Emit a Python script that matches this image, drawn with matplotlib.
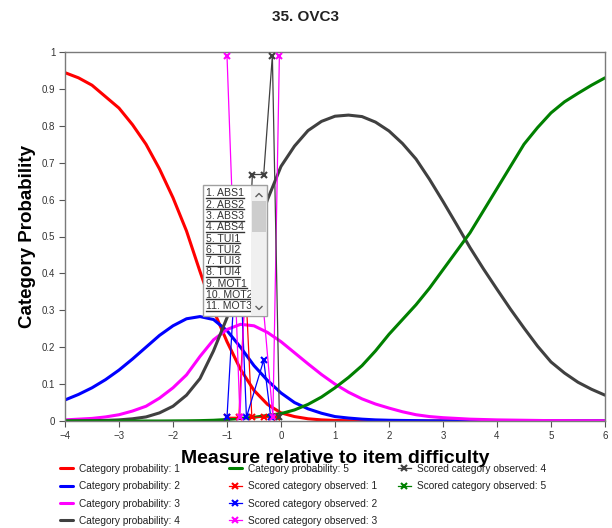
import matplotlib
matplotlib.use("Agg")
import matplotlib.pyplot as plt
from matplotlib.lines import Line2D
from matplotlib.patches import Rectangle
from matplotlib.transforms import Affine2D

plt.rcParams['font.family'] = ['Liberation Sans', 'DejaVu Sans']

# data (x step 0.25)
x_grid = [-4, -3.75, -3.5, -3.25, -3, -2.75, -2.5, -2.25, -2, -1.75, -1.5, -1.25, -1,
          -0.75, -0.5, -0.25, 0, 0.25, 0.5, 0.75, 1, 1.25, 1.5, 1.75, 2, 2.25, 2.5,
          2.75, 3, 3.25, 3.5, 3.75, 4, 4.25, 4.5, 4.75, 5, 5.25, 5.5, 5.75, 6]
cat1 = [0.944, 0.93, 0.91, 0.879, 0.848, 0.803, 0.75, 0.683, 0.605, 0.515, 0.405, 0.30, 0.215,
        0.14, 0.083, 0.045, 0.022, 0.012, 0.006, 0.003, 0.0015, 0.0008, 0.0004, 0.0002, 0.0001,
        0, 0, 0, 0, 0, 0, 0, 0, 0, 0, 0, 0, 0, 0, 0, 0]
cat2 = [0.057, 0.072, 0.09, 0.112, 0.138, 0.168, 0.20, 0.232, 0.258, 0.277, 0.283, 0.275, 0.245,
        0.20, 0.15, 0.11, 0.076, 0.05, 0.033, 0.021, 0.012, 0.008, 0.005, 0.003, 0.002, 0.0015,
        0.001, 0.0005, 0.0003, 0.0002, 0.0001, 0, 0, 0, 0, 0, 0, 0, 0, 0, 0]
cat3 = [0.003, 0.005, 0.007, 0.011, 0.017, 0.027, 0.04, 0.062, 0.09, 0.125, 0.175, 0.22, 0.248,
        0.262, 0.258, 0.24, 0.215, 0.185, 0.155, 0.126, 0.10, 0.078, 0.06, 0.046, 0.035, 0.025,
        0.017, 0.012, 0.009, 0.007, 0.005, 0.004, 0.003, 0.0025, 0.002, 0.0015, 0.001, 0.001,
        0.0005, 0.0005, 0.0003]
cat4 = [0.0002, 0.0004, 0.0008, 0.0016, 0.003, 0.006, 0.011, 0.022, 0.04, 0.07, 0.115, 0.19, 0.28,
        0.38, 0.49, 0.60, 0.69, 0.745, 0.787, 0.812, 0.826, 0.829, 0.825, 0.81, 0.786, 0.752,
        0.71, 0.655, 0.595, 0.533, 0.47, 0.412, 0.357, 0.303, 0.252, 0.203, 0.16, 0.13, 0.105,
        0.086, 0.07]
cat5 = [0, 0, 0, 0, 0, 0, 0, 0, 0.0003, 0.0005, 0.001, 0.002, 0.004,
        0.007, 0.01, 0.015, 0.02, 0.03, 0.045, 0.065, 0.09, 0.118, 0.15, 0.19, 0.235, 0.275,
        0.315, 0.36, 0.41, 0.46, 0.51, 0.57, 0.63, 0.69, 0.75, 0.795, 0.835, 0.865, 0.888,
        0.91, 0.93]

obs1_x = [-1.0, -0.78, -0.66, -0.54, -0.32, -0.16, -0.07]
obs1_p = [0.01, 0.01, 0.38, 0.01, 0.01, 0.01, 0.01]
obs2_x = [-1.0, -0.79, -0.64, -0.32, -0.19]
obs2_p = [0.01, 0.55, 0.01, 0.165, 0.01]
obs3_x = [-1.0, -0.76, -0.62, -0.5, -0.15, -0.03]
obs3_p = [0.99, 0.01, 0.55, 0.6, 0.01, 0.99]
obs4_x = [-0.6, -0.53, -0.32, -0.16, -0.03]
obs4_p = [0.45, 0.668, 0.668, 0.99, 0.01]
obs5_x = [-0.07]
obs5_p = [0.01]

x_ticks = [-4, -3, -2, -1, 0, 1, 2, 3, 4, 5, 6]
y_ticks = [0, 0.1, 0.2, 0.3, 0.4, 0.5, 0.6, 0.7, 0.8, 0.9, 1]
y_tick_labels = ["0", "0.1", "0.2", "0.3", "0.4", "0.5", "0.6", "0.7", "0.8", "0.9", "1"]
items = ["1. ABS1", "2. ABS2", "3. ABS3", "4. ABS4", "5. TUI1", "6. TUI2",
         "7. TUI3", "8. TUI4", "9. MOT1", "10. MOT2", "11. MOT3"]

colors = ['#ff0000', '#0000ff', '#ff00ff', '#404040', '#008000']

W, H = 612, 528
fig = plt.figure(figsize=(W / 100, H / 100), dpi=100)
ax = fig.add_axes([65 / W, 1 - 421 / H, 540 / W, 369 / H])
# pixel coords of the picture, origin top-left
pix = Affine2D().scale(1 / W, -1 / H).translate(0, 1) + fig.transFigure

curves = [cat1, cat2, cat3, cat4, cat5]
handles_c = []
for i, c in enumerate(curves):
    h, = ax.plot(x_grid, c, color=colors[i], lw=2.2, solid_capstyle='round',
                 solid_joinstyle='round', label='Category probability: %d' % (i + 1))
    handles_c.append(h)

obs = [(obs5_x, obs5_p, 4), (obs1_x, obs1_p, 0), (obs2_x, obs2_p, 1),
       (obs3_x, obs3_p, 2), (obs4_x, obs4_p, 3)]
handles_o = {}
for ox, op, k in obs:
    h, = ax.plot(ox, op, color=colors[k], lw=0.9, marker='x', ms=5, mew=1.5,
                 label='Scored category observed: %d' % (k + 1), clip_on=False, zorder=3)
    handles_o[k] = h

ax.set_xlim(-4, 6)
ax.set_ylim(0, 1)
ax.set_xticks(x_ticks)
ax.set_yticks(y_ticks)
ax.set_yticklabels(y_tick_labels)
for s in ax.spines.values():
    s.set_color('#7a7a7a')
    s.set_linewidth(1)
ax.tick_params(direction='out', length=4, width=0.8, color='#555555',
               labelsize=7, labelcolor='#333333', pad=3)

fig.text(305 / W, 1 - 17 / H, '35. OVC3', ha='center', va='center',
         fontsize=11, fontweight='bold', color='#222222')
ax.set_xlabel('Measure relative to item difficulty', fontsize=14, fontweight='bold')
ax.xaxis.set_label_coords(0.5, -0.078)
ax.set_ylabel('Category Probability', fontsize=13.5, fontweight='bold')
ax.yaxis.set_label_coords(-0.054, 0.5)

# legend, three fixed-width columns
leg_cols = [
    ([handles_c[0], handles_c[1], handles_c[2], handles_c[3]], 60),
    ([handles_c[4], handles_o[0], handles_o[1], handles_o[2]], 229),
    ([handles_o[3], handles_o[4]], 398),
]
for hs, x0 in leg_cols:
    lg = fig.legend(handles=hs, loc='upper left', bbox_to_anchor=(x0 / W, 1 - 464 / H),
                    frameon=False, fontsize=7.3, borderpad=0, borderaxespad=0,
                    handlelength=1.25, handletextpad=0.6, labelspacing=0.72)
    for t in lg.get_texts():
        t.set_color('#222222')

# item list box drawn over the plot
fig.add_artist(Rectangle((203, 185), 64, 131, transform=pix, facecolor='white',
                         edgecolor='none', zorder=5))
texts = []
for i, name in enumerate(items):
    t = fig.text(206, 193.5 + i * 11.27, name, transform=pix, ha='left', va='center',
                 fontsize=7.6, color='#333333', zorder=6)
    texts.append(t)
fig.canvas.draw()
r = fig.canvas.get_renderer()
inv = fig.transFigure.inverted()
for t in texts:
    bb = t.get_window_extent(r).transformed(inv)
    fig.add_artist(Line2D([bb.x0, bb.x1], [bb.y0 + 0.001, bb.y0 + 0.001],
                          transform=fig.transFigure, color='#333333', lw=1, zorder=6))
fig.add_artist(Rectangle((251, 186), 16, 129, transform=pix, facecolor='#f0f0f0',
                         edgecolor='none', zorder=7))
fig.add_artist(Rectangle((252, 201), 14, 31, transform=pix, facecolor='#cdcdcd',
                         edgecolor='none', zorder=8))
fig.add_artist(Line2D([256, 259, 262], [196.5, 193.5, 196.5], transform=pix,
                      color='#606060', lw=1, zorder=9))
fig.add_artist(Line2D([256, 259, 262], [306.5, 309.5, 306.5], transform=pix,
                      color='#606060', lw=1, zorder=9))
fig.add_artist(Rectangle((203, 185), 64, 131, transform=pix, facecolor='none',
                         edgecolor='#a0a0a0', lw=1, zorder=9))

fig.savefig('out.png', dpi=100)
